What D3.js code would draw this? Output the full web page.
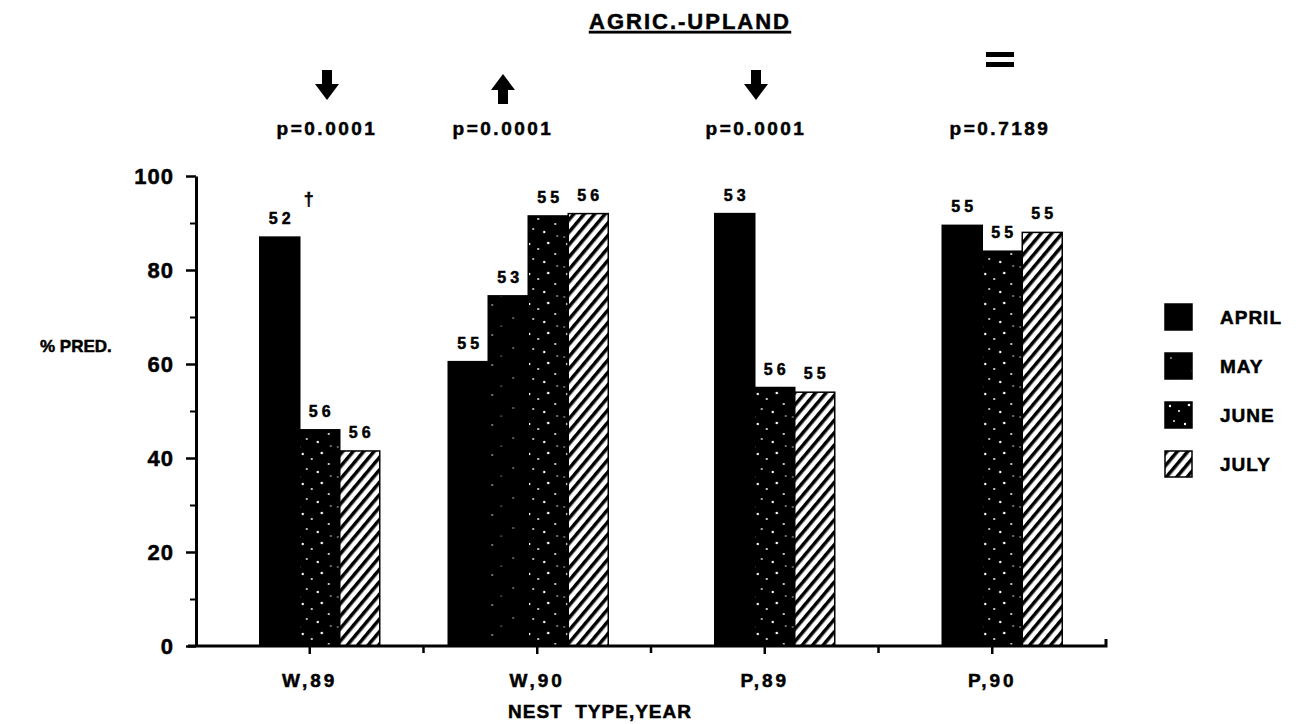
<!DOCTYPE html>
<html>
<head>
<meta charset="utf-8">
<script src="https://cdn.jsdelivr.net/npm/d3@7"></script>
<style>
  body { margin: 0; background: #fff; }
  text { font-family: "Liberation Sans", Arial, sans-serif; font-weight: bold; fill: #000; stroke: #000; stroke-width: 0.5px; }
</style>
</head>
<body>
<div class="chart"></div>
<script>
// data
const groups = ['W,89', 'W,90', 'P,89', 'P,90']
const months = ['APRIL', 'MAY', 'JUNE', 'JULY']
const april = [87, 60.5, 92, 89.5]
const may = [null, 74.5, null, null]
const june = [46, 91.5, 55, 84]
const july = [41.5, 92, 54, 88]
const nApril = ['52', '55', '53', '55']
const nMay = [null, '53', null, null]
const nJune = ['56', '55', '56', '55']
const nJuly = ['56', '56', '55', '55']
const trends = ['down', 'up', 'down', 'same']
const pValues = ['p=0.0001', 'p=0.0001', 'p=0.0001', 'p=0.7189']
const yTicks = [0, 20, 40, 60, 80, 100]
const yMinor = [10, 30, 50, 70, 90]

const width = 1302, height = 724

const svg = d3.select('.chart')
  .append('svg')
  .attr('width', width)
  .attr('height', height)

// fills
const defs = svg.append('defs')
const hatch = defs.append('pattern')
  .attr('id', 'hatch')
  .attr('patternUnits', 'userSpaceOnUse')
  .attr('width', 8).attr('height', 8)
  .attr('patternTransform', 'rotate(40)')
hatch.append('rect').attr('width', 8).attr('height', 8).attr('fill', '#fff')
hatch.append('rect').attr('width', 3.5).attr('height', 8).attr('fill', '#000')

const speckle = (id, dots) => {
  const p = defs.append('pattern')
    .attr('id', id)
    .attr('patternUnits', 'userSpaceOnUse')
    .attr('width', 38).attr('height', 30)
  p.append('rect').attr('width', 38).attr('height', 30).attr('fill', '#000')
  p.selectAll('circle').data(dots).enter().append('circle')
    .attr('cx', d => d[0]).attr('cy', d => d[1]).attr('r', d => d[2])
    .attr('fill', '#fff')
}
speckle('mayFill', [[6, 5, 0.8], [27, 18, 0.7], [15, 26, 0.6]])
speckle('juneFill', [[5, 4, 1.2], [14, 9, 1], [24, 3, 1.3], [31, 14, 1], [9, 19, 0.9], [20, 22, 1.2], [33, 26, 0.8], [2, 27, 0.7]])

const fills = { APRIL: '#000', MAY: 'url(#mayFill)', JUNE: 'url(#juneFill)', JULY: 'url(#hatch)' }

// scales
const x = d3.scaleBand().domain(groups).range([196, 1106])
const y = d3.scaleLinear().domain([0, 100]).range([646, 176])
const barW = 40

const table = groups.map((g, i) => ({
  group: g,
  bars: [
    { m: 'APRIL', v: april[i], n: nApril[i] },
    { m: 'MAY', v: may[i], n: nMay[i] },
    { m: 'JUNE', v: june[i], n: nJune[i] },
    { m: 'JULY', v: july[i], n: nJuly[i] }
  ].filter(b => b.v != null)
}))

const gGroups = svg.selectAll('g.grp')
  .data(table)
  .enter()
  .append('g')
  .attr('class', 'grp')
  .attr('transform', d => `translate(${x(d.group) + x.bandwidth() / 2 - d.bars.length * barW / 2 + (d.bars.length === 3 ? 10 : -9)},0)`)

gGroups.each(function (d) {
  const inner = d3.scaleBand().domain(d.bars.map(b => b.m)).range([0, d.bars.length * barW])
  const g = d3.select(this)
  g.selectAll('rect')
    .data(d.bars)
    .enter()
    .append('rect')
    .attr('x', b => inner(b.m))
    .attr('y', b => y(b.v))
    .attr('width', inner.bandwidth())
    .attr('height', b => y(0) - y(b.v))
    .attr('fill', b => fills[b.m])
    .attr('stroke', '#000')
    .attr('stroke-width', 1.5)
  g.selectAll('text.n')
    .data(d.bars)
    .enter()
    .append('text')
    .attr('class', 'n')
    .attr('x', b => inner(b.m) + inner.bandwidth() / 2 + 2)
    .attr('y', b => y(b.v) - 13)
    .attr('text-anchor', 'middle')
    .style('font-size', '16px')
    .style('letter-spacing', '4px')
    .text(b => b.n)
  if (d.group === 'W,89') {
    g.append('text')
      .attr('x', inner('APRIL') + inner.bandwidth() + 4)
      .attr('y', y(d.bars[0].v) - 32)
      .style('font-size', '18px')
      .text('\u2020')
  }
})

const axisText = sel => sel
  .style('font-family', '"Liberation Sans", Arial, sans-serif')
  .style('font-weight', 'bold')

// y axis
svg.append('g')
  .attr('transform', 'translate(196,0)')
  .call(d3.axisLeft(y).tickValues(yTicks).tickSize(10).tickPadding(12).tickSizeOuter(0))
  .call(g => g.select('.domain').attr('stroke-width', 3))
  .call(g => g.selectAll('.tick line').attr('stroke-width', 2.5))
  .call(g => g.selectAll('.tick text').call(axisText).style('font-size', '22px').style('letter-spacing', '1px'))

svg.append('g')
  .attr('transform', 'translate(196,0)')
  .call(d3.axisLeft(y).tickValues(yMinor).tickSize(6).tickFormat(''))
  .call(g => g.select('.domain').remove())
  .call(g => g.selectAll('.tick line').attr('stroke-width', 2))

// x axis
const xAxis = svg.append('g')
  .attr('transform', `translate(0,${y(0)})`)
  .call(d3.axisBottom(x).tickSize(8).tickPadding(20).tickSizeOuter(0))
xAxis.select('.domain').attr('d', `M188,0H1106V-7`).attr('stroke-width', 3)
xAxis.selectAll('.tick line').attr('stroke-width', 2.5)
xAxis.selectAll('.tick text')
  .call(axisText)
  .style('font-size', '19px')
  .style('letter-spacing', '3px')

svg.append('g')
  .attr('transform', `translate(0,${y(0)})`)
  .selectAll('line')
  .data(groups.slice(1))
  .enter()
  .append('line')
  .attr('x1', d => x(d)).attr('x2', d => x(d))
  .attr('y1', 0).attr('y2', 7)
  .attr('stroke', '#000').attr('stroke-width', 2.5)

svg.append('text')
  .attr('x', 600)
  .attr('y', 718)
  .attr('text-anchor', 'middle')
  .style('font-size', '19px')
  .style('letter-spacing', '1px')
  .attr('xml:space', 'preserve')
  .text('NEST  TYPE,YEAR')

svg.append('text')
  .attr('x', 40)
  .attr('y', 352)
  .style('font-size', '17px')
  .text('% PRED.')

// title
svg.append('text')
  .attr('x', 690)
  .attr('y', 29)
  .attr('text-anchor', 'middle')
  .style('font-size', '22px')
  .style('letter-spacing', '2px')
  .style('text-decoration', 'underline')
  .text('AGRIC.-UPLAND')

// significance markers
const mx = [327, 503, 756, 1000]
const marks = svg.selectAll('g.mark')
  .data(groups.map((g, i) => ({ t: trends[i], p: pValues[i], cx: mx[i] })))
  .enter()
  .append('g')
  .attr('class', 'mark')
  .attr('transform', d => `translate(${d.cx},0)`)

marks.append('text')
  .attr('y', 135)
  .attr('text-anchor', 'middle')
  .style('font-size', '19px')
  .style('letter-spacing', '2.5px')
  .text(d => d.p)

const down = 'M-5,70H5V84H12L0,100L-12,84H-5Z'
const up = 'M-5,104H5V90H12L0,74L-12,90H-5Z'
marks.filter(d => d.t !== 'same')
  .append('path')
  .attr('d', d => d.t === 'down' ? down : up)
  .attr('fill', '#000')
marks.filter(d => d.t === 'same')
  .selectAll('rect')
  .data([52, 62])
  .enter()
  .append('rect')
  .attr('x', -14).attr('y', d => d).attr('width', 28).attr('height', 5)
  .attr('fill', '#000')

// legend
const legend = svg.selectAll('g.legend')
  .data(months)
  .enter()
  .append('g')
  .attr('class', 'legend')
  .attr('transform', (d, i) => `translate(1165,${304 + i * 49})`)
legend.append('rect')
  .attr('width', 27).attr('height', 26)
  .attr('fill', d => fills[d])
  .attr('stroke', '#000').attr('stroke-width', 1.5)
legend.append('text')
  .attr('x', 55).attr('y', 20)
  .style('font-size', '19px')
  .style('letter-spacing', '1px')
  .text(d => d)
</script>
</body>
</html>
